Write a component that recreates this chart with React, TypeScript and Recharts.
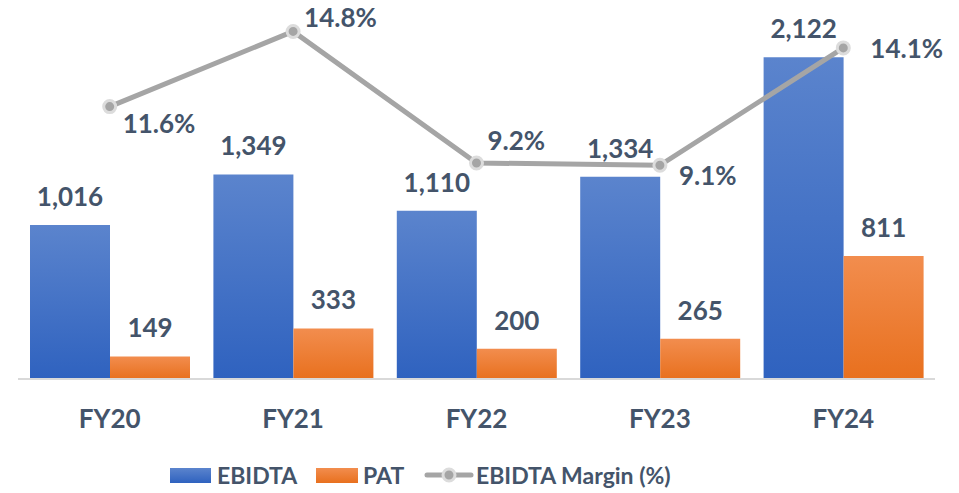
import React from 'react';
import { ComposedChart, Bar, Line, XAxis, YAxis, Legend, LabelList } from 'recharts';

const categories = ['FY20', 'FY21', 'FY22', 'FY23', 'FY24'];
const ebidta = [1016, 1349, 1110, 1334, 2122];
const pat = [149, 333, 200, 265, 811];
const margin = [11.6, 14.8, 9.2, 9.1, 14.1];

// label placement for the margin line (start offset from point)
const marginLabelOffsets = [
  { dx: 13, dy: 16 },
  { dx: 11, dy: -14 },
  { dx: 11, dy: -23 },
  { dx: 19, dy: 10 },
  { dx: 27, dy: 0 },
];

const TEXT = '#44546A';
const FONT = 'Lato, "Open Sans", sans-serif';
const LABEL_SIZE = 26;

const data = categories.map((name, i) => ({
  name,
  ebidta: ebidta[i],
  pat: pat[i],
  margin: margin[i],
}));

const fmt = (v: number) => v.toLocaleString('en-US');

const BarLabel = (props: any) => {
  const { x, y, width, value } = props;
  return (
    <text
      x={x + width / 2}
      y={y - 29}
      textAnchor="middle"
      dominantBaseline="central"
      fill={TEXT}
      fontSize={LABEL_SIZE}
      fontWeight={700}
      fontFamily={FONT}
    >
      {fmt(value)}
    </text>
  );
};

const MarginLabel = (props: any) => {
  const { x, y, value, index } = props;
  const o = marginLabelOffsets[index] || { dx: 10, dy: 0 };
  return (
    <text
      x={x + o.dx}
      y={y + o.dy}
      textAnchor="start"
      dominantBaseline="central"
      fill={TEXT}
      fontSize={LABEL_SIZE}
      fontWeight={700}
      fontFamily={FONT}
    >
      {value.toFixed(1)}%
    </text>
  );
};

const CategoryTick = (props: any) => {
  const { x, y, payload } = props;
  return (
    <text
      x={x}
      y={y + 39}
      textAnchor="middle"
      dominantBaseline="central"
      fill={TEXT}
      fontSize={LABEL_SIZE}
      fontWeight={700}
      fontFamily={FONT}
    >
      {payload.value}
    </text>
  );
};

const LegendContent = () => {
  const txt: React.CSSProperties = {
    color: TEXT,
    fontSize: 23,
    fontWeight: 700,
    fontFamily: FONT,
    lineHeight: '44px',
  };
  return (
    <div style={{ height: 44, position: 'relative', width: 959 }}>
      <div style={{ position: 'absolute', left: 170, top: 19, width: 41, height: 15, background: 'linear-gradient(#5B84CD, #2F62BF)' }} />
      <span style={{ ...txt, position: 'absolute', left: 217, top: 4 }}>EBIDTA</span>
      <div style={{ position: 'absolute', left: 316, top: 19, width: 42, height: 15, background: 'linear-gradient(#F28D4E, #E8701E)' }} />
      <span style={{ ...txt, position: 'absolute', left: 363, top: 4 }}>PAT</span>
      <svg style={{ position: 'absolute', left: 424, top: 14 }} width={50} height={24}>
        <line x1={3} y1={12} x2={47} y2={12} stroke="#A5A5A5" strokeWidth={5} strokeLinecap="round" />
        <circle cx={25} cy={12} r={6} fill="#A5A5A5" stroke="#DCDCDC" strokeWidth={3} />
      </svg>
      <span style={{ ...txt, position: 'absolute', left: 476, top: 4 }}>EBIDTA Margin (%)</span>
    </div>
  );
};

export default function App() {
  return (
    <div style={{ position: 'absolute', left: 0, top: 0, width: 959, height: 493, background: '#fff' }}>
      <ComposedChart
        width={959}
        height={493}
        data={data}
        margin={{ top: 15, right: 24, bottom: 0, left: 18 }}
        barGap={0}
      >
        <defs>
          <linearGradient id="gEbidta" x1="0" y1="0" x2="0" y2="1">
            <stop offset="0%" stopColor="#5B84CD" />
            <stop offset="100%" stopColor="#2F62BF" />
          </linearGradient>
          <linearGradient id="gPat" x1="0" y1="0" x2="0" y2="1">
            <stop offset="0%" stopColor="#F28D4E" />
            <stop offset="100%" stopColor="#E8701E" />
          </linearGradient>
        </defs>
        <XAxis
          dataKey="name"
          height={70}
          tickLine={false}
          tickSize={0}
          tickMargin={0}
          axisLine={{ stroke: '#D9D9D9', strokeWidth: 2 }}
          tick={<CategoryTick />}
          interval={0}
        />
        <YAxis yAxisId="left" hide domain={[0, 2400]} />
        <YAxis yAxisId="right" orientation="right" hide domain={[0, 15.5]} />
        <Legend
          verticalAlign="bottom"
          content={<LegendContent />}
          height={44}
          wrapperStyle={{ left: 0, width: 959 }}
        />
        <Bar yAxisId="left" dataKey="ebidta" name="EBIDTA" fill="url(#gEbidta)" barSize={80} isAnimationActive={false}>
          <LabelList dataKey="ebidta" content={<BarLabel />} />
        </Bar>
        <Bar yAxisId="left" dataKey="pat" name="PAT" fill="url(#gPat)" barSize={80} isAnimationActive={false}>
          <LabelList dataKey="pat" content={<BarLabel />} />
        </Bar>
        <Line
          yAxisId="right"
          dataKey="margin"
          name="EBIDTA Margin (%)"
          stroke="#A5A5A5"
          strokeWidth={5}
          dot={{ r: 6, fill: '#A5A5A5', stroke: '#DCDCDC', strokeWidth: 3 }}
          activeDot={false}
          isAnimationActive={false}
        >
          <LabelList dataKey="margin" content={<MarginLabel />} />
        </Line>
      </ComposedChart>
    </div>
  );
}
